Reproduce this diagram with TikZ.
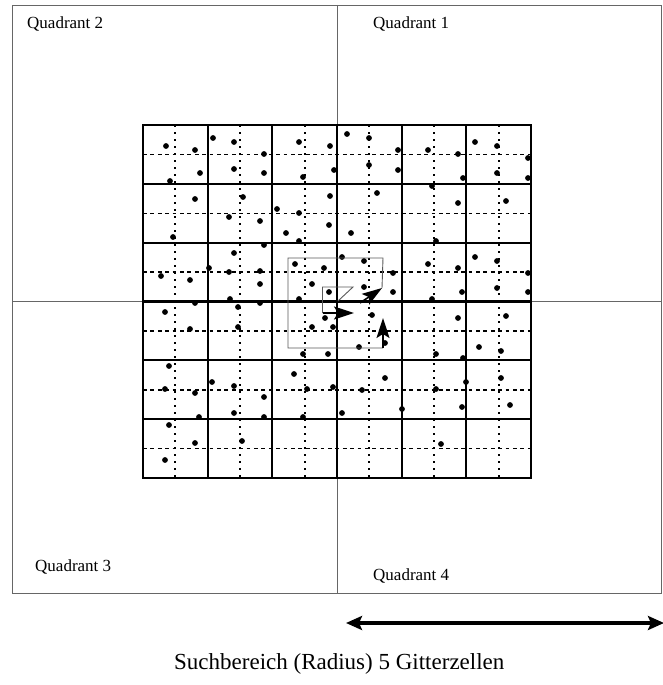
\documentclass[tikz,border=0pt]{standalone}
\usepackage{fontspec}
\setmainfont{Liberation Serif}
\usetikzlibrary{arrows.meta,positioning,calc}

\begin{document}
\begin{tikzpicture}[
  x=1pt, y=-1pt,
  >=Stealth,
  every node/.style={inner sep=0pt},
  frameline/.style={draw=black!60, line width=0.8pt},
  cellline/.style={draw=black, line width=2.2pt},
  hdash/.style={draw=black, line width=1.4pt, dash pattern=on 3.8pt off 3.6pt},
  vdash/.style={draw=black, line width=1.8pt, dash pattern=on 2pt off 5pt},
  spiral/.style={draw=black!65, line width=0.9pt},
  steparrow/.style={draw=black, line width=1.6pt,
                    -{Stealth[length=20pt, width=13pt, inset=4pt]}},
  radiusarrow/.style={draw=black, line width=3.2pt,
                {Stealth[length=16pt, width=14pt, inset=3pt]}-{Stealth[length=16pt, width=14pt, inset=3pt]}},
  quadlabel/.style={font=\fontsize{17}{20}\selectfont, anchor=base west},
]
\useasboundingbox (0,0) rectangle (663,685);

% outer frame and quadrant axes
\draw[frameline] (12,5) rectangle (661,593);
\draw[frameline] (337,5) -- (337,593);
\draw[frameline] (12,301.5) -- (661,301.5);

\node[quadlabel] (q2) at (27,29) {Quadrant 2};
\node[quadlabel] (q1) at (373,29) {Quadrant 1};
\node[quadlabel] (q3) at (35,571) {Quadrant 3};
\node[quadlabel] (q4) at (373,580) {Quadrant 4};

% dashed centre lines of the cells
\foreach \x in {175.3,240,304.7,369.3,434,498.7}
  \draw[vdash] (\x,125) -- (\x,478);
\foreach \y in {154.4,213.3,272.1,330.9,389.8,448.6}
  \draw[hdash] (143,\y) -- (531,\y);

% grid cells
\draw[cellline] (143,125) rectangle (531,478);
\foreach \x in {207.7,272.3,337,401.7,466.3}
  \draw[cellline] (\x,125) -- (\x,478);
\foreach \y in {183.8,242.7,301.5,360.3,419.2}
  \draw[cellline] (143,\y) -- (531,\y);

% data points
\foreach \px/\py in {
  166/146,195/150,200/173,170/181,213/138,234/142,264/154,234/169,
  264/173,299/142,303/177,195/199,243/197,173/237,229/217,260/221,
  277/209,299/213,329/225,286/233,299/241,264/245,234/253,161/276,
  190/280,209/268,229/272,260/271,260/284,230/299,295/264,312/284,
  324/268,329/292,347/134,369/138,330/146,398/150,369/165,398/170,
  334/170,428/150,458/154,463/178,475/142,497/146,528/158,497/173,
  528/178,330/196,377/193,432/186,458/203,506/201,351/233,436/241,
  342/257,364/261,428/264,458/268,393/273,475/257,497/261,528/273,
  364/287,393/292,462/292,497/288,528/292,195/303,260/303,299/299,
  165/312,238/307,190/329,238/327,312/327,325/318,303/354,328/354,
  169/366,165/389,195/393,199/417,212/382,234/386,264/397,234/413,
  264/417,294/374,307/389,303/417,169/425,195/443,165/460,242/441,
  432/299,372/315,333/327,385/343,359/347,458/318,506/316,479/347,
  501/351,436/354,463/358,385/378,333/387,362/390,342/413,402/409,
  436/389,466/382,462/407,501/378,510/405,441/444}
  \fill (\px,\py) circle (2.9pt);

% spiral search path
\coordinate (c0) at (338,301);
\coordinate (a1) at (353,287);
\coordinate (a2) at (322.5,287);
\coordinate (a3) at (322.5,313);
\coordinate (a4) at (354,313);
\coordinate (b0) at (360,303);
\coordinate (b1) at (382,288);
\coordinate (b2) at (383,258);
\coordinate (b3) at (288,258);
\coordinate (b4) at (288,348);
\coordinate (b5) at (383,348);
\coordinate (b6) at (383,318);

\draw[spiral] (c0) -- (a1) -- (a2) -- (a3);
\draw[steparrow] (a3) -- (a4);
\draw[steparrow] (b0) -- (b1);
\draw[spiral] (b1) -- (b2) -- (b3) -- (b4) -- (b5);
\draw[steparrow] (b5) -- (b6);

% search radius
\coordinate (rleft) at (346,623);
\coordinate (rright) at (664,623);
\draw[radiusarrow] (rleft) -- (rright);
\node[font=\fontsize{23}{26}\selectfont, anchor=base west] (caption) at (174,669)
  {Suchbereich (Radius) 5 Gitterzellen};
\end{tikzpicture}
\end{document}
